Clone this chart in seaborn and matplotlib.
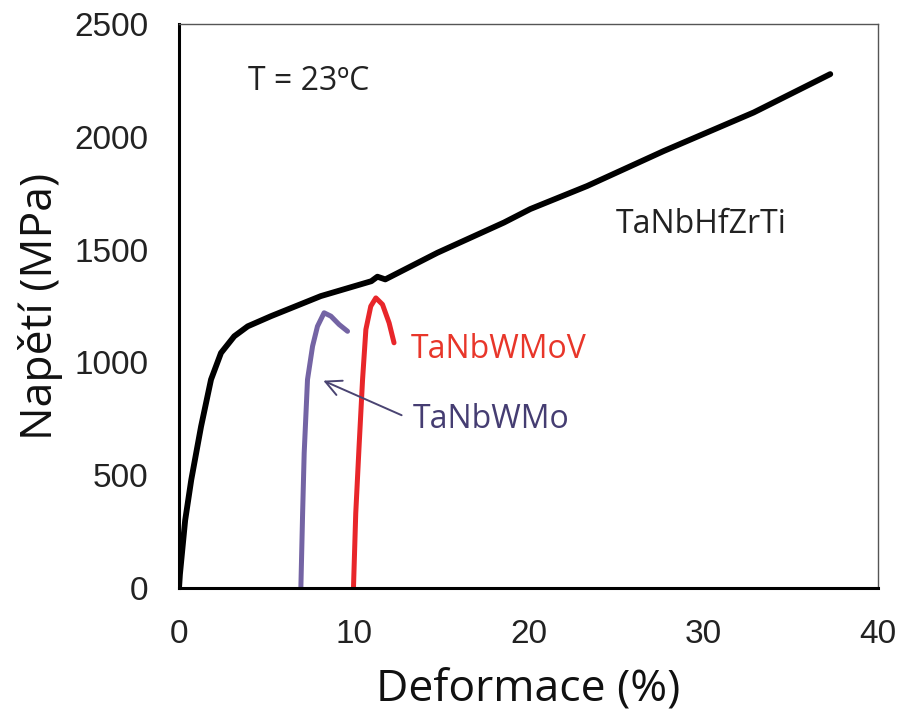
import matplotlib
matplotlib.use("Agg")
import matplotlib.pyplot as plt
import seaborn as sns
import pandas as pd

# Stress-strain curves at room temperature (strain %, stress MPa)
hfzr_strain = [0.0, 0.05, 0.35, 0.70, 1.26, 1.83, 2.40, 3.16, 3.93, 5.26, 8.11,
               11.00, 11.35, 11.80, 14.78, 18.59, 20.10, 23.35, 27.73, 32.88, 37.26]
hfzr_stress = [0, 60, 300, 480, 716, 924, 1042, 1116, 1160, 1205, 1294,
               1360, 1380, 1368, 1486, 1620, 1680, 1782, 1937, 2108, 2278]

wmo_strain = [6.97, 7.07, 7.16, 7.35, 7.64, 7.92, 8.30, 8.69, 9.16, 9.64]
wmo_stress = [0, 331, 598, 924, 1072, 1160, 1220, 1205, 1168, 1138]

wmov_strain = [9.98, 10.11, 10.30, 10.50, 10.69, 10.97, 11.26, 11.64, 12.02, 12.30]
wmov_stress = [0, 331, 627, 924, 1146, 1249, 1286, 1257, 1175, 1087]

alloys = ["TaNbHfZrTi", "TaNbWMo", "TaNbWMoV"]
colors = {"TaNbHfZrTi": "#000000", "TaNbWMo": "#7464a4", "TaNbWMoV": "#e8262a"}
widths = {"TaNbHfZrTi": 4.2, "TaNbWMo": 3.6, "TaNbWMoV": 3.6}

x_ticks = [0, 10, 20, 30, 40]
y_ticks = [0, 500, 1000, 1500, 2000, 2500]

frames = []
for name, xs, ys in zip(alloys,
                        [hfzr_strain, wmo_strain, wmov_strain],
                        [hfzr_stress, wmo_stress, wmov_stress]):
    frames.append(pd.DataFrame({"strain": xs, "stress": ys, "alloy": name}))
df = pd.concat(frames, ignore_index=True)

sns.set_style("white")
plt.rcParams["font.family"] = ["Liberation Sans", "DejaVu Sans"]

fig = plt.figure(figsize=(8.97, 7.13), dpi=100)
ax = fig.add_axes([0.1996, 0.1753, 0.7794, 0.7910])

for name in alloys:
    sns.lineplot(data=df[df["alloy"] == name], x="strain", y="stress",
                 color=colors[name], estimator=None, sort=False,
                 linewidth=widths[name], legend=False, ax=ax)

ax.set_xlim(0, 40)
ax.set_ylim(0, 2500)
ax.set_xticks(x_ticks)
ax.set_yticks(y_ticks)
ax.tick_params(axis="x", direction="in", length=10, width=1.8, pad=22,
               labelsize=24, colors="black", labelcolor="#222222")
ax.tick_params(axis="y", direction="out", length=10, width=1.8, pad=12,
               labelsize=24, colors="black", labelcolor="#222222")

for side in ["left", "bottom"]:
    ax.spines[side].set_linewidth(2.2)
    ax.spines[side].set_color("black")
for side in ["top", "right"]:
    ax.spines[side].set_linewidth(1.0)
    ax.spines[side].set_color("#555555")

label_font = dict(family=["Open Sans", "DejaVu Sans"], size=32, color="#111111")
ax.set_xlabel("Deformace (%)", labelpad=13, **label_font)
ax.set_ylabel("Napětí (MPa)", labelpad=8, **label_font)

text_font = dict(family=["Open Sans", "DejaVu Sans"], size=23)
ax.text(3.94, 2247, "T = 23ºC", va="center", ha="left", color="#222222", **text_font)
ax.text(24.97, 1612, "TaNbHfZrTi", va="center", ha="left", color="#222222", **text_font)
ax.text(13.26, 1057, "TaNbWMoV", va="center", ha="left", color="#e8362a", **text_font)
ax.text(13.37, 746, "TaNbWMo", va="center", ha="left", color="#453d72", **text_font)

ax.annotate("", xy=(8.11, 924), xytext=(12.88, 761),
            arrowprops=dict(arrowstyle="->", color="#4a4472", lw=1.4,
                            mutation_scale=28))

fig.savefig("out.png", dpi=100)
